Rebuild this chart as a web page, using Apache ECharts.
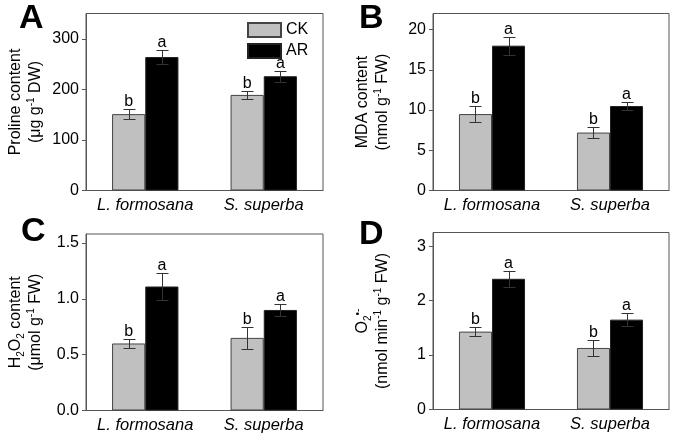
<!DOCTYPE html>
<html>
<head>
<meta charset="utf-8">
<script src="https://cdn.jsdelivr.net/npm/echarts@6/dist/echarts.min.js"></script>
<style>html,body{margin:0;padding:0;background:#fff}#c{width:673px;height:435px}</style>
</head>
<body>
<div id="c"></div>
<script>
// ---- data ----
const categories = ['L. formosana', 'S. superba'];
const seriesNames = ['CK', 'AR'];

const prolineCK = [151, 189];
const prolineCKErr = [10, 8];
const prolineAR = [264, 226];
const prolineARErr = [13, 11];
const prolineLettersCK = ['b', 'b'];
const prolineLettersAR = ['a', 'a'];
const prolineTicks = [0, 100, 200, 300];

const mdaCK = [9.5, 7.2];
const mdaCKErr = [1.0, 0.7];
const mdaAR = [18.0, 10.5];
const mdaARErr = [1.1, 0.5];
const mdaLettersCK = ['b', 'b'];
const mdaLettersAR = ['a', 'a'];
const mdaTicks = [0, 5, 10, 15, 20];

const h2o2CK = [0.60, 0.65];
const h2o2CKErr = [0.04, 0.095];
const h2o2AR = [1.11, 0.90];
const h2o2ARErr = [0.12, 0.055];
const h2o2LettersCK = ['b', 'b'];
const h2o2LettersAR = ['a', 'a'];
const h2o2Ticks = [0, 0.5, 1.0, 1.5];

const o2CK = [1.43, 1.13];
const o2CKErr = [0.08, 0.14];
const o2AR = [2.40, 1.65];
const o2ARErr = [0.15, 0.12];
const o2LettersCK = ['b', 'b'];
const o2LettersAR = ['a', 'a'];
const o2Ticks = [0, 1, 2, 3];

const panelLetters = ['A', 'B', 'C', 'D'];

// ---- styling / layout ----
const FONT = '"Liberation Sans", Arial, Helvetica, sans-serif';
const AXIS_COLOR = '#555';
const GAP = 0.44;

const grids = [
  { left: 86, top: 13.5, width: 237, height: 177 },
  { left: 433, top: 13.5, width: 236, height: 177 },
  { left: 86, top: 234, width: 237, height: 176.5 },
  { left: 433, top: 232.5, width: 236, height: 177 }
];
const yMax = [350, 22, 1.58, 3.25];
const tickSets = [prolineTicks, mdaTicks, h2o2Ticks, o2Ticks];
const labelFmt = [v => String(v), v => String(v), v => v.toFixed(1), v => String(v)];

const richStyles = {
  sup: { fontSize: 10, lineHeight: 9, verticalAlign: 'top', fontFamily: FONT, color: '#000' },
  sub: { fontSize: 10, lineHeight: 6, verticalAlign: 'bottom', fontFamily: FONT, color: '#000' }
};
const yNames = [
  'Proline content\n(μg g{sup|-1} DW)',
  'MDA content\n(nmol g{sup|-1} FW)',
  'H{sub|2}O{sub|2} content\n(μmol g{sup|-1} FW)',
  'O{sub|2}{sup|•-}\n(nmol min{sup|-1} g{sup|-1} FW)'
];

const panels = [
  [prolineCK, prolineCKErr, prolineAR, prolineARErr, prolineLettersCK, prolineLettersAR],
  [mdaCK, mdaCKErr, mdaAR, mdaARErr, mdaLettersCK, mdaLettersAR],
  [h2o2CK, h2o2CKErr, h2o2AR, h2o2ARErr, h2o2LettersCK, h2o2LettersAR],
  [o2CK, o2CKErr, o2AR, o2ARErr, o2LettersCK, o2LettersAR]
];

function makeErrRender(lettersCK, lettersAR) {
  return function (params, api) {
    const cat = api.value(0), val = api.value(1), err = api.value(2), side = api.value(3);
    const band = api.size([1, 0])[0];
    const bw = band * (1 - GAP) / 2;
    const c = api.coord([cat, 0])[0] + (side === 0 ? -bw / 2 : bw / 2);
    const x = Math.round(c) + 0.5;
    const yT = Math.round(api.coord([cat, val + err])[1]) + 0.5;
    const yB = Math.round(api.coord([cat, val - err])[1]) + 0.5;
    const cap = 6;
    const st = { stroke: '#333', lineWidth: 1 };
    const letter = side === 0 ? lettersCK[cat] : lettersAR[cat];
    return {
      type: 'group',
      children: [
        { type: 'line', shape: { x1: x, y1: yT, x2: x, y2: yB }, style: st },
        { type: 'line', shape: { x1: x - cap, y1: yT, x2: x + cap, y2: yT }, style: st },
        { type: 'line', shape: { x1: x - cap, y1: yB, x2: x + cap, y2: yB }, style: st },
        { type: 'text', style: { text: letter, x: c, y: yT + 0.5, align: 'center', verticalAlign: 'bottom',
            font: '16px ' + FONT, fill: '#000' } }
      ]
    };
  };
}

const xAxes = [], yAxes = [], series = [];
panels.forEach((p, i) => {
  xAxes.push({
    type: 'category', gridIndex: i, data: categories,
    axisLine: { lineStyle: { color: AXIS_COLOR, width: 1 } },
    axisTick: { show: false },
    axisLabel: { color: '#000', fontSize: 16.5, fontStyle: 'italic', fontFamily: FONT, margin: 6, interval: 0 }
  });
  yAxes.push({
    type: 'value', gridIndex: i, min: 0, max: yMax[i],
    splitLine: { show: false },
    axisLine: { show: true, lineStyle: { color: AXIS_COLOR, width: 1 } },
    axisTick: { show: true, length: 4, lineStyle: { color: AXIS_COLOR }, customValues: tickSets[i] },
    axisLabel: { color: '#000', fontSize: 16, fontFamily: FONT, margin: 7,
      customValues: tickSets[i], formatter: labelFmt[i] },
    name: yNames[i], nameLocation: 'middle', nameRotate: 90, nameGap: 40,
    nameTextStyle: { color: '#000', fontSize: 16, lineHeight: 20, fontFamily: FONT, rich: richStyles }
  });
  const [ck, ckErr, ar, arErr, lCK, lAR] = p;
  series.push({
    name: seriesNames[0], type: 'bar', xAxisIndex: i, yAxisIndex: i, data: ck,
    barGap: 0, barCategoryGap: (GAP * 100) + '%',
    itemStyle: { color: '#c0c0c0', borderColor: '#444', borderWidth: 1 }
  });
  series.push({
    name: seriesNames[1], type: 'bar', xAxisIndex: i, yAxisIndex: i, data: ar,
    barGap: 0, barCategoryGap: (GAP * 100) + '%',
    itemStyle: { color: '#000', borderColor: '#222', borderWidth: 1 }
  });
  const errData = [];
  ck.forEach((v, k) => errData.push([k, v, ckErr[k], 0]));
  ar.forEach((v, k) => errData.push([k, v, arErr[k], 1]));
  series.push({
    type: 'custom', xAxisIndex: i, yAxisIndex: i, data: errData, z: 10,
    renderItem: makeErrRender(lCK, lAR), silent: true
  });
});

const letterPos = [[19, 2], [359, 2], [21, 215], [359, 218]];
const graphics = panelLetters.map((t, i) => ({
  type: 'text', left: letterPos[i][0], top: letterPos[i][1],
  style: { text: t, font: 'bold 34px ' + FONT, fill: '#000' }
}));

const chart = echarts.init(document.getElementById('c'), null, { renderer: 'canvas' });
chart.setOption({
  animation: false,
  backgroundColor: '#fff',
  grid: grids.map(g => Object.assign({ show: true, borderColor: AXIS_COLOR, borderWidth: 1, backgroundColor: 'transparent' }, g)),
  legend: {
    data: seriesNames, orient: 'vertical', left: 247, top: 22, padding: 0,
    itemWidth: 33, itemHeight: 14, itemGap: 5, icon: 'rect',
    textStyle: { color: '#000', fontSize: 16, fontFamily: FONT }
  },
  xAxis: xAxes,
  yAxis: yAxes,
  series: series,
  graphic: graphics
});
</script>
</body>
</html>
